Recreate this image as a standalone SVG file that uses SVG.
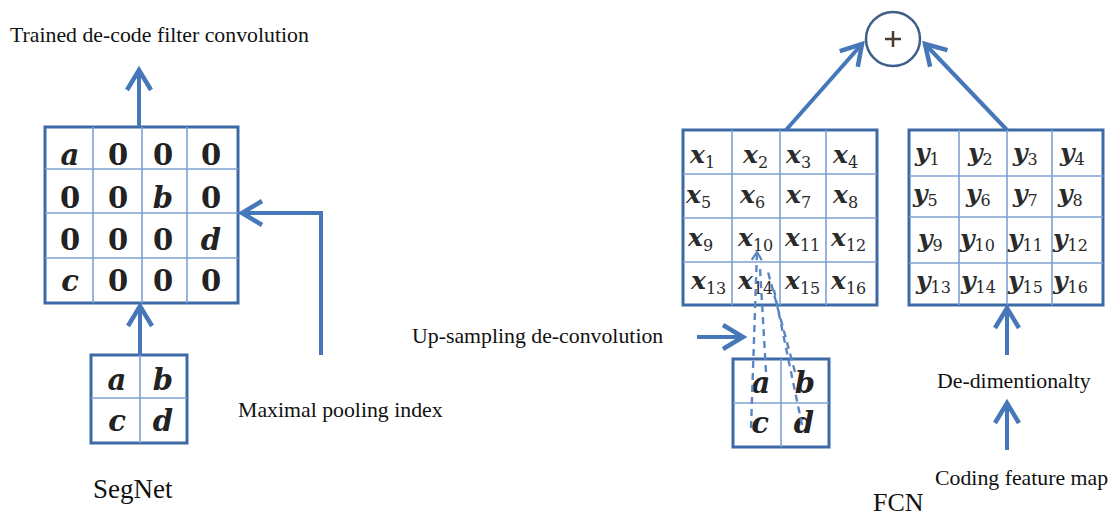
<svg xmlns="http://www.w3.org/2000/svg" width="1112" height="517" viewBox="0 0 1112 517">
<style>
.lbl{font-family:"Liberation Serif","Times New Roman",serif;font-size:21.8px;fill:#111}
.big{font-family:"Liberation Serif","Times New Roman",serif;fill:#111}
.box{fill:#fff;stroke:#3d6aa6;stroke-width:3}
.inner{stroke:#7ea3d4;stroke-width:1.6;fill:none}
.cell{font-family:"DejaVu Serif",serif;font-size:29px;font-weight:bold;fill:#222;text-anchor:middle}
.cell.it{font-style:italic}
.var{font-family:"DejaVu Serif",serif;font-size:25px;font-style:italic;font-weight:bold;fill:#2a2a2a}
.sub{font-size:16px;font-style:normal;font-weight:normal}
.conn{stroke:#4677b8;stroke-width:4;fill:none}
.dash{stroke:#5a86c4;stroke-width:2.4;fill:none;stroke-dasharray:7 5}
</style>
<defs>
<marker id="ah" markerUnits="userSpaceOnUse" markerWidth="40" markerHeight="40" viewBox="-25 -20 30 40" refX="0" refY="0" orient="auto" overflow="visible">
<path d="M-20,-12 L0,0 L-20,12" fill="none" stroke="#4677b8" stroke-width="4.5"/>
</marker>
<marker id="ahs" markerUnits="userSpaceOnUse" markerWidth="20" markerHeight="20" viewBox="-12 -10 14 20" refX="0" refY="0" orient="auto" overflow="visible">
<path d="M-8,-5 L0,0 L-8,5" fill="none" stroke="#5a86c4" stroke-width="2.2"/>
</marker>
</defs>
<rect width="1112" height="517" fill="#fff"/>

<g id="labels">
<text class="lbl" x="10" y="42">Trained de-code filter convolution</text>
<text class="lbl" x="238" y="417">Maximal pooling index</text>
<text class="big" x="93" y="498" font-size="27">SegNet</text>
<text class="lbl" x="412" y="343">Up-sampling de-convolution</text>
<text class="lbl" x="937" y="388">De-dimentionalty</text>
<text class="lbl" x="935" y="485">Coding feature map</text>
<text class="big" x="873" y="511" font-size="26">FCN</text>
</g>

<g id="segnet-grid">
<rect class="box" x="45" y="127" width="193" height="176"/>
<path class="inner" d="M93,127V303M142,127V303M187,127V303M45,169H238M45,213H238M45,258H238"/>
<text class="cell it" x="70" y="165">a</text><text class="cell" x="118" y="165">0</text><text class="cell" x="163" y="165">0</text><text class="cell" x="211" y="165">0</text>
<text class="cell" x="70" y="208">0</text><text class="cell" x="118" y="208">0</text><text class="cell it" x="163" y="208">b</text><text class="cell" x="211" y="208">0</text>
<text class="cell" x="70" y="250">0</text><text class="cell" x="118" y="250">0</text><text class="cell" x="163" y="250">0</text><text class="cell it" x="211" y="250">d</text>
<text class="cell it" x="70" y="291">c</text><text class="cell" x="118" y="291">0</text><text class="cell" x="163" y="291">0</text><text class="cell" x="211" y="291">0</text>
</g>

<g id="segnet-small">
<rect class="box" x="91" y="355" width="96" height="88"/>
<path class="inner" d="M140,355V443M91,398H187"/>
<text class="cell it" x="117" y="390">a</text><text class="cell it" x="163" y="390">b</text>
<text class="cell it" x="117" y="431">c</text><text class="cell it" x="163" y="431">d</text>
</g>

<g id="fcn-x">
<rect class="box" x="683" y="130" width="194" height="175"/>
<path class="inner" d="M732,130V305M780,130V305M826,130V305M683,174H877M683,218H877M683,262H877"/>
<text class="var" x="690" y="163">x<tspan class="sub" dy="5">1</tspan></text>
<text class="var" x="743" y="163">x<tspan class="sub" dy="5">2</tspan></text>
<text class="var" x="786" y="163">x<tspan class="sub" dy="5">3</tspan></text>
<text class="var" x="833" y="163">x<tspan class="sub" dy="5">4</tspan></text>
<text class="var" x="686" y="203">x<tspan class="sub" dy="5">5</tspan></text>
<text class="var" x="740" y="203">x<tspan class="sub" dy="5">6</tspan></text>
<text class="var" x="786" y="203">x<tspan class="sub" dy="5">7</tspan></text>
<text class="var" x="833" y="203">x<tspan class="sub" dy="5">8</tspan></text>
<text class="var" x="688" y="246">x<tspan class="sub" dy="5">9</tspan></text>
<text class="var" x="738" y="246">x<tspan class="sub" dy="5">10</tspan></text>
<text class="var" x="785" y="246">x<tspan class="sub" dy="5">11</tspan></text>
<text class="var" x="831" y="246">x<tspan class="sub" dy="5">12</tspan></text>
<text class="var" x="691" y="289">x<tspan class="sub" dy="5">13</tspan></text>
<text class="var" x="738" y="289">x<tspan class="sub" dy="5">14</tspan></text>
<text class="var" x="785" y="289">x<tspan class="sub" dy="5">15</tspan></text>
<text class="var" x="831" y="289">x<tspan class="sub" dy="5">16</tspan></text>
</g>

<g id="fcn-y">
<rect class="box" x="909" y="130" width="194" height="175"/>
<path class="inner" d="M959,130V305M1007,130V305M1052,130V305M909,176H1103M909,217H1103M909,263H1103"/>
<text class="var" x="915" y="161">y<tspan class="sub" dy="4">1</tspan></text>
<text class="var" x="968" y="161">y<tspan class="sub" dy="4">2</tspan></text>
<text class="var" x="1013" y="161">y<tspan class="sub" dy="4">3</tspan></text>
<text class="var" x="1060" y="161">y<tspan class="sub" dy="4">4</tspan></text>
<text class="var" x="913" y="202">y<tspan class="sub" dy="4">5</tspan></text>
<text class="var" x="966" y="202">y<tspan class="sub" dy="4">6</tspan></text>
<text class="var" x="1013" y="202">y<tspan class="sub" dy="4">7</tspan></text>
<text class="var" x="1058" y="202">y<tspan class="sub" dy="4">8</tspan></text>
<text class="var" x="918" y="247">y<tspan class="sub" dy="4">9</tspan></text>
<text class="var" x="960" y="247">y<tspan class="sub" dy="4">10</tspan></text>
<text class="var" x="1008" y="247">y<tspan class="sub" dy="4">11</tspan></text>
<text class="var" x="1053" y="247">y<tspan class="sub" dy="4">12</tspan></text>
<text class="var" x="916" y="289">y<tspan class="sub" dy="4">13</tspan></text>
<text class="var" x="961" y="289">y<tspan class="sub" dy="4">14</tspan></text>
<text class="var" x="1008" y="289">y<tspan class="sub" dy="4">15</tspan></text>
<text class="var" x="1053" y="289">y<tspan class="sub" dy="4">16</tspan></text>
</g>

<g id="plus">
<circle cx="893" cy="39" r="27" fill="#fff" stroke="#3f5f8a" stroke-width="2.5"/>
<path d="M885,39H901M893,31V47" stroke="#4a3a30" stroke-width="2.5"/>
</g>

<g id="fcn-small">
<rect class="box" x="733" y="359" width="96" height="88"/>
<path class="inner" d="M781,359V447M733,403H829"/>
<text class="cell it" x="761" y="393">a</text><text class="cell it" x="805" y="393">b</text>
<text class="cell it" x="760" y="433">c</text><text class="cell it" x="804" y="433">d</text>
</g>

<g id="connectors">
<line class="conn" x1="139" y1="127" x2="139" y2="70" marker-end="url(#ah)"/>
<polyline class="conn" points="321,355 321,213 242,213" marker-end="url(#ah)"/>
<line class="conn" x1="140" y1="355" x2="140" y2="306" marker-end="url(#ah)"/>
<line class="conn" x1="786" y1="130" x2="862" y2="44" marker-end="url(#ah)"/>
<line class="conn" x1="1007" y1="130" x2="925" y2="44" marker-end="url(#ah)"/>
<line class="conn" x1="697" y1="337" x2="743" y2="337" marker-end="url(#ah)"/>
<line class="conn" x1="1007" y1="355" x2="1007" y2="308" marker-end="url(#ah)"/>
<line class="conn" x1="1007" y1="450" x2="1007" y2="403" marker-end="url(#ah)"/>
<line class="dash" x1="751" y1="428" x2="757" y2="252" marker-end="url(#ahs)"/>
<line class="dash" x1="766" y1="372" x2="760" y2="268"/>
<line class="dash" x1="795" y1="372" x2="768" y2="272"/>
<line class="dash" x1="802" y1="425" x2="774" y2="290"/>
</g>
</svg>
